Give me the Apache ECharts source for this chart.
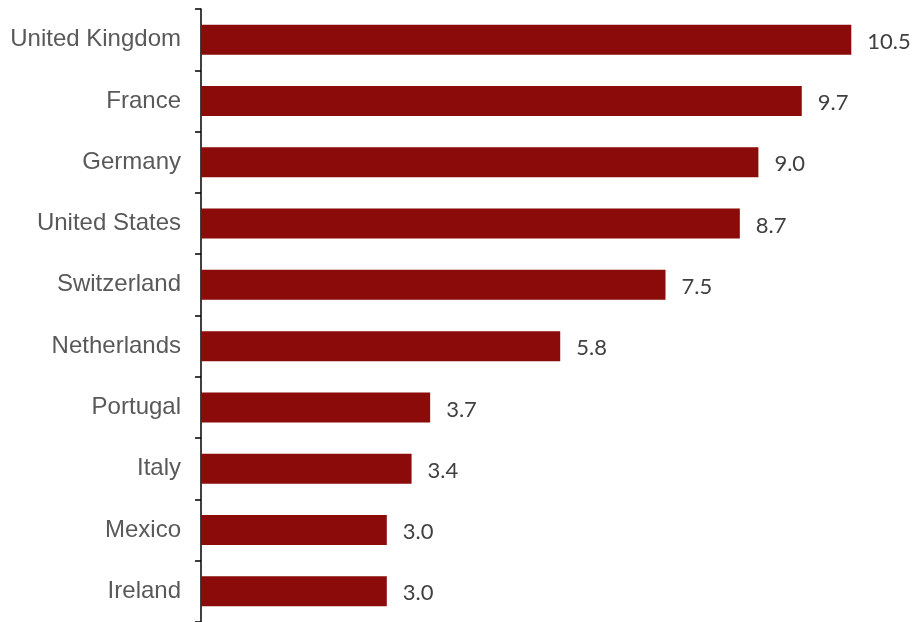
<!DOCTYPE html>
<html>
<head>
<meta charset="utf-8">
<script src="https://cdn.jsdelivr.net/npm/echarts@6/dist/echarts.min.js"></script>
<style>
  html, body { margin: 0; padding: 0; background: #fff; }
  #box { width: 912px; height: 622px; }
</style>
</head>
<body>
<div id="box"></div>
<script>
var countries = ['United Kingdom', 'France', 'Germany', 'United States', 'Switzerland',
                 'Netherlands', 'Portugal', 'Italy', 'Mexico', 'Ireland'];
var values = [10.5, 9.7, 9.0, 8.7, 7.5, 5.8, 3.7, 3.4, 3.0, 3.0];

var myChart = echarts.init(document.getElementById('box'));
var option = {
    animation: false,
    grid: { left: 201, right: 0, top: 9, height: 614, containLabel: false },
    xAxis: {
        type: 'value',
        min: 0,
        max: 11.48,
        show: false
    },
    yAxis: {
        type: 'category',
        inverse: true,
        data: countries,
        axisLine: { show: true, lineStyle: { color: '#000', width: 1.5 } },
        axisTick: { show: true, length: 6, lineStyle: { color: '#000', width: 1.5 } },
        axisLabel: {
            color: '#595959',
            fontFamily: '"Liberation Sans", Arial, sans-serif',
            fontSize: 24,
            margin: 20,
            padding: [5, 0, 0, 0]
        }
    },
    series: [
        {
            type: 'bar',
            data: values,
            barWidth: 30,
            itemStyle: { color: '#8B0A0A' },
            label: {
                show: true,
                position: 'right',
                distance: 16,
                offset: [0, 2],
                color: '#404040',
                fontFamily: 'Lato, sans-serif',
                fontSize: 22,
                formatter: function (p) { return p.value.toFixed(1); }
            }
        }
    ]
};
myChart.setOption(option, true);
</script>
</body>
</html>
